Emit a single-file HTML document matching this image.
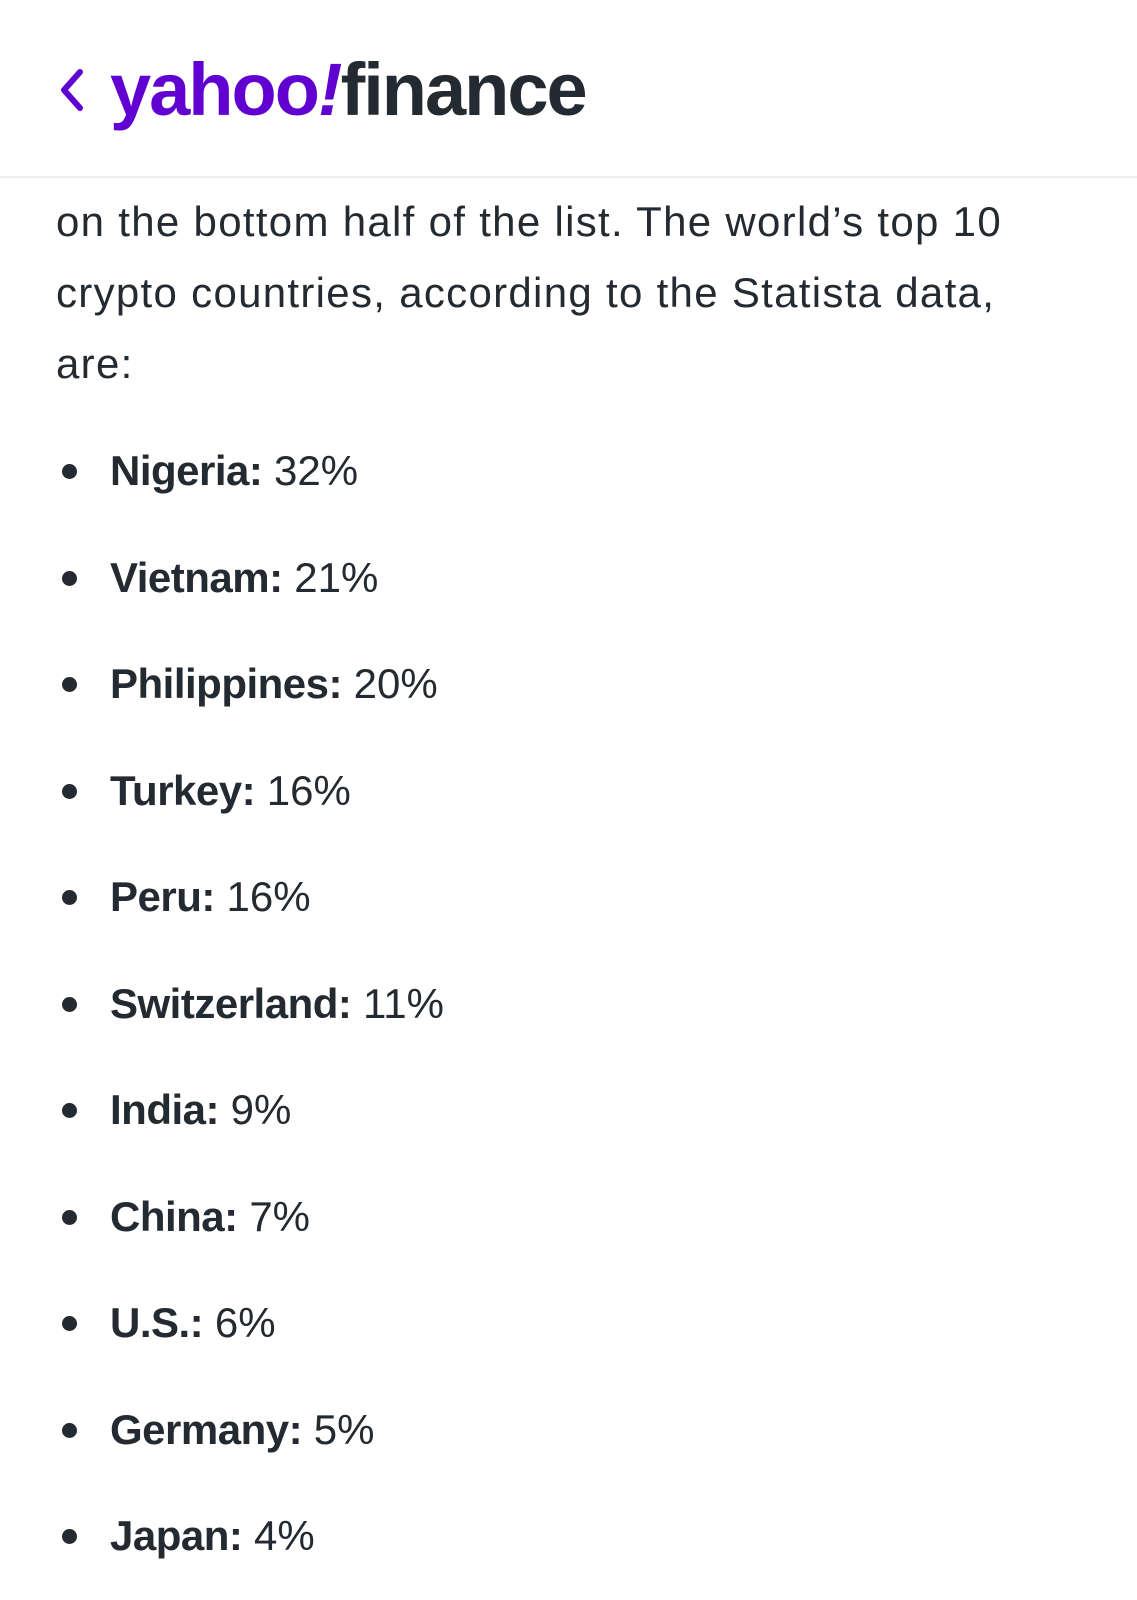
<!DOCTYPE html>
<html><head><style>
body{margin:0;width:1137px;height:1600px;background:#fff;overflow:hidden;font-family:"Liberation Sans",sans-serif;color:#232a31;position:relative}
.hdr{position:absolute;left:0;top:0;width:1137px;height:176px;border-bottom:2px solid #eceef0}
.logo{position:absolute;left:110px;top:40px;font-size:74px;font-weight:bold;letter-spacing:-2px;line-height:100px}
.p{position:absolute;left:56px;font-size:42px;letter-spacing:1.3px;line-height:71px;white-space:nowrap}
.li{position:absolute;left:110px;font-size:42px;line-height:50px;white-space:nowrap}
.li b{letter-spacing:-0.5px}
.dot{position:absolute;left:62px;width:15px;height:15px;border-radius:50%;background:#232a31}
</style></head><body>
<div class="hdr">
<svg style="position:absolute;left:58px;top:68px" width="28" height="44"><polyline points="22,4 6,22 22,40" fill="none" stroke="#6001d2" stroke-width="6" stroke-linecap="round" stroke-linejoin="round"/></svg>
<div class="logo"><span style="color:#6001d2">yahoo<i>!</i></span><span style="color:#232a31">finance</span></div>
</div>
<div class="p" style="top:186px">on the bottom half of the list. The world’s top 10</div>
<div class="p" style="top:257px">crypto countries, according to the Statista data,</div>
<div class="p" style="top:328px">are:</div>
<div class="dot" style="top:464px"></div><div class="li" style="top:446px"><b>Nigeria:</b> 32%</div>
<div class="dot" style="top:571px"></div><div class="li" style="top:553px"><b>Vietnam:</b> 21%</div>
<div class="dot" style="top:677px"></div><div class="li" style="top:659px"><b>Philippines:</b> 20%</div>
<div class="dot" style="top:784px"></div><div class="li" style="top:766px"><b>Turkey:</b> 16%</div>
<div class="dot" style="top:890px"></div><div class="li" style="top:872px"><b>Peru:</b> 16%</div>
<div class="dot" style="top:997px"></div><div class="li" style="top:979px"><b>Switzerland:</b> 11%</div>
<div class="dot" style="top:1103px"></div><div class="li" style="top:1085px"><b>India:</b> 9%</div>
<div class="dot" style="top:1210px"></div><div class="li" style="top:1192px"><b>China:</b> 7%</div>
<div class="dot" style="top:1316px"></div><div class="li" style="top:1298px"><b>U.S.:</b> 6%</div>
<div class="dot" style="top:1423px"></div><div class="li" style="top:1405px"><b>Germany:</b> 5%</div>
<div class="dot" style="top:1529px"></div><div class="li" style="top:1511px"><b>Japan:</b> 4%</div>
</body></html>
